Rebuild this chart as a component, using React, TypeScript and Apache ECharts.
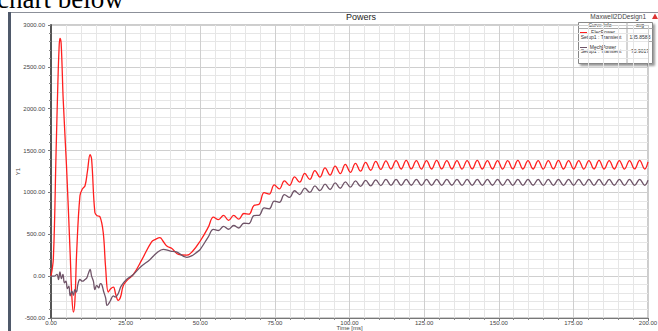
import React, { useEffect, useRef } from "react";
import * as echarts from "echarts";

// ---- Data ----
// Start-up transient, ElecPower (time ms, power)
const elecEarlyT = [0, 0.8, 1.7, 2.3, 2.7, 3.0, 3.4, 4.1, 5.2, 6.4, 7.0, 7.5, 8.0, 8.6, 9.7, 10.5, 11.4, 12.2, 13.1, 13.6, 14.7, 15.5, 16.4, 17.5, 18.3, 19.2, 20.0, 20.9, 21.7, 22.5, 23.3, 24.2, 25.5, 27.6, 30.5, 33.7, 35.0, 36.5, 37.5, 38.8, 40.5, 42.7, 45.5, 47.5, 50.0];
const elecEarlyV = [0, 220, 1480, 2300, 2720, 2840, 2780, 2100, 1310, 285, -250, -430, -300, 285, 960, 1040, 1080, 1250, 1450, 1400, 760, 720, 710, 520, 100, -190, -150, -130, -220, -290, -250, -115, -50, 20, 200, 410, 440, 460, 420, 360, 330, 260, 250, 300, 420];
// Start-up transient, MechPower
const mechEarlyT = [0, 1.0, 2.0, 2.5, 3.0, 3.5, 4.0, 4.5, 5.0, 5.5, 6.0, 6.4, 7.0, 7.5, 8.0, 8.5, 9.0, 9.7, 10.5, 11.4, 12.0, 12.5, 13.1, 13.6, 14.2, 14.7, 15.3, 16.0, 16.5, 17.0, 17.6, 18.3, 18.8, 19.8, 20.9, 21.5, 22.5, 23.5, 25.3, 27.6, 30.0, 33.2, 35.5, 37.6, 40.0, 42.0, 45.5, 47.5, 49.0, 50.0];
const mechEarlyV = [0, 0, 20, -40, 50, -30, 20, -80, -60, -150, -120, -235, -180, -230, -160, -190, -100, -40, -60, -40, -20, 30, 80, 0, -60, -160, -110, -140, -90, -100, -180, -260, -350, -300, -235, -250, -210, -120, -40, 20, 110, 200, 280, 320, 300, 290, 225, 250, 290, 320];
// Oscillating part: sample times at alternating troughs / crests
const steadyT = [52.7, 54.4, 56.1, 57.8, 59.5, 61.2, 62.9, 64.6, 66.3, 68.0, 69.7, 71.4, 73.1, 74.8, 76.5, 78.2, 79.9, 81.6, 83.3, 85.0, 86.7, 88.4, 90.1, 91.8, 93.5, 95.2, 96.9, 98.6, 100.3, 102.0, 103.7, 105.4, 107.1, 108.8, 110.5, 112.2, 113.9, 115.6, 117.3, 119.0, 120.7, 122.4, 124.1, 125.8, 127.5, 129.2, 130.9, 132.6, 134.3, 136.0, 137.7, 139.4, 141.1, 142.8, 144.5, 146.2, 147.9, 149.6, 151.3, 153.0, 154.7, 156.4, 158.1, 159.8, 161.5, 163.2, 164.9, 166.6, 168.3, 170.0, 171.7, 173.4, 175.1, 176.8, 178.5, 180.2, 181.9, 183.6, 185.3, 187.0, 188.7, 190.4, 192.1, 193.8, 195.5, 197.2, 198.9, 200.0];
const elecSteadyV = [585, 705, 675, 725, 665, 725, 680, 748, 740, 845, 858, 997, 980, 1090, 1042, 1138, 1085, 1185, 1123, 1227, 1155, 1260, 1183, 1293, 1207, 1315, 1225, 1335, 1240, 1348, 1255, 1360, 1265, 1370, 1275, 1378, 1280, 1380, 1280, 1382, 1281, 1380, 1279, 1381, 1280, 1382, 1281, 1380, 1280, 1381, 1279, 1380, 1281, 1382, 1280, 1380, 1280, 1381, 1279, 1380, 1281, 1382, 1280, 1380, 1280, 1381, 1279, 1380, 1281, 1382, 1280, 1380, 1280, 1381, 1279, 1380, 1281, 1382, 1280, 1380, 1280, 1381, 1279, 1380, 1281, 1382, 1280, 1365];
const mechSteadyV = [470, 558, 545, 595, 560, 605, 575, 632, 628, 724, 726, 815, 804, 897, 882, 973, 940, 1020, 974, 1052, 1000, 1078, 1021, 1098, 1035, 1113, 1050, 1127, 1063, 1138, 1072, 1145, 1078, 1150, 1082, 1155, 1085, 1156, 1085, 1155, 1086, 1156, 1084, 1155, 1085, 1156, 1085, 1155, 1086, 1156, 1084, 1155, 1085, 1156, 1085, 1155, 1086, 1156, 1084, 1155, 1085, 1156, 1085, 1155, 1086, 1156, 1084, 1155, 1085, 1156, 1085, 1155, 1086, 1156, 1084, 1155, 1085, 1156, 1085, 1155, 1086, 1156, 1084, 1155, 1085, 1156, 1085, 1145];

const seriesNames = ["ElecPower", "MechPower"];
const seriesAvg = ["135.8583", "73.9017"];
const xTicks = { min: 0, max: 200, interval: 25 };
const yTicks = { min: -500, max: 3000, interval: 500 };

const FONT = '"Liberation Sans", Arial, sans-serif';
const RED = "#ff1f1f";
const PURPLE = "#6f5468";

function pairs(t: number[], v: number[]) {
  return t.map((x, i) => [x, v[i]]);
}

export default function App() {
  const ref = useRef<HTMLDivElement>(null);
  useEffect(() => {
    if (!ref.current) return;
    const chart = echarts.init(ref.current, null, { renderer: "svg" });
    const elecData = pairs(elecEarlyT, elecEarlyV).concat(pairs(steadyT, elecSteadyV));
    const mechData = pairs(mechEarlyT, mechEarlyV).concat(pairs(steadyT, mechSteadyV));
    const small = (s: string, x: number, y: number, align = "center", size = 5) => ({
      type: "text",
      style: { text: s, x, y, fill: "#333", font: `${size}px ${FONT}`, textAlign: align, textVerticalAlign: "middle" },
    });
    chart.setOption({
      animation: false,
      backgroundColor: "#fff",
      grid: {
        left: 51, right: 10, top: 25, bottom: 13,
        outerBoundsMode: "none",
        containLabel: false,
        show: true, borderColor: "#9a9a9a", borderWidth: 1,
      },
      xAxis: {
        type: "value",
        min: xTicks.min,
        max: xTicks.max,
        interval: xTicks.interval,
        axisLine: { show: true, onZero: false, lineStyle: { color: "#777", width: 1 } },
        axisTick: { show: true, length: 3, lineStyle: { color: "#777" } },
        minorTick: { show: true, splitNumber: 5, length: 2, lineStyle: { color: "#888" } },
        axisLabel: { fontSize: 6, color: "#444", margin: 2, fontFamily: FONT, formatter: (v: number) => v.toFixed(2) },
        splitLine: { show: true, lineStyle: { color: "#cfcfcf", width: 1 } },
        minorSplitLine: { show: true, lineStyle: { color: "#e6e6e6", width: 1 } },
        name: "Time [ms]",
        nameLocation: "middle",
        nameGap: 7,
        nameMoveOverlap: false,
        nameTextStyle: { fontSize: 6, color: "#444", fontFamily: FONT },
      },
      yAxis: {
        type: "value",
        min: yTicks.min,
        max: yTicks.max,
        interval: yTicks.interval,
        axisLine: { show: true, onZero: false, lineStyle: { color: "#555", width: 2 } },
        axisTick: { show: true, length: 3, lineStyle: { color: "#777" } },
        minorTick: { show: true, splitNumber: 5, length: 2, lineStyle: { color: "#888" } },
        axisLabel: { fontSize: 6, color: "#444", margin: 6, fontFamily: FONT, formatter: (v: number) => v.toFixed(2) },
        splitLine: { show: true, lineStyle: { color: "#cfcfcf", width: 1 } },
        minorSplitLine: { show: true, lineStyle: { color: "#e6e6e6", width: 1 } },
        name: "Y1",
        nameLocation: "middle",
        nameGap: 30,
        nameRotate: 90,
        nameMoveOverlap: false,
        nameTextStyle: { fontSize: 6, color: "#444", fontFamily: FONT },
      },
      series: [
        {
          name: seriesNames[0],
          type: "line",
          data: elecData,
          showSymbol: false,
          smooth: 0.4,
          lineStyle: { color: RED, width: 1.3 },
          itemStyle: { color: RED },
          z: 3,
        },
        {
          name: seriesNames[1],
          type: "line",
          data: mechData,
          showSymbol: false,
          smooth: 0.4,
          lineStyle: { color: PURPLE, width: 1.3 },
          itemStyle: { color: PURPLE },
          z: 4,
        },
      ],
      graphic: [
        {
          type: "text",
          style: { text: "chart below", x: -3, y: -1.5, fill: "#000", font: `27px "Liberation Serif", serif`, textAlign: "left", textVerticalAlign: "middle" },
        },
        { type: "rect", shape: { x: 9.5, y: 12.5, width: 660, height: 330 }, style: { fill: "none", stroke: "#8c9099", lineWidth: 1 } },
        { type: "rect", shape: { x: 8, y: 12, width: 3, height: 320 }, style: { fill: "#4f596a" } },
        { type: "text", style: { text: "Powers", x: 361, y: 17, fill: "#222", font: `9px ${FONT}`, textAlign: "center", textVerticalAlign: "middle" } },
        { type: "text", style: { text: "Maxwell2DDesign1", x: 646, y: 16, fill: "#444", font: `6.5px ${FONT}`, textAlign: "right", textVerticalAlign: "middle" } },
        { type: "polygon", shape: { points: [[652, 19], [658, 19], [655, 13.5]] }, style: { fill: "#d33" } },
        {
          type: "group",
          children: [
            {
              type: "rect",
              shape: { x: 578.5, y: 22.5, width: 74, height: 41 },
              style: { fill: "#fff", stroke: "#888", lineWidth: 1, shadowBlur: 2, shadowOffsetX: 2, shadowOffsetY: 2, shadowColor: "rgba(0,0,0,0.4)" },
            },
            { type: "line", shape: { x1: 627, y1: 22.5, x2: 627, y2: 63.5 }, style: { stroke: "#aaa", lineWidth: 1 } },
            { type: "line", shape: { x1: 578.5, y1: 28.5, x2: 652.5, y2: 28.5 }, style: { stroke: "#aaa", lineWidth: 1 } },
            { type: "line", shape: { x1: 578.5, y1: 41.5, x2: 652.5, y2: 41.5 }, style: { stroke: "#aaa", lineWidth: 1 } },
            small("Curve Info", 600, 25.3),
            small("avg", 640, 25.3),
            { type: "line", shape: { x1: 580, y1: 32.5, x2: 587, y2: 32.5 }, style: { stroke: RED, lineWidth: 1 } },
            small(seriesNames[0], 603, 32),
            small("Setup1 : Transient", 601, 36.5),
            small(seriesAvg[0], 640, 36.5),
            { type: "line", shape: { x1: 580, y1: 47.5, x2: 587, y2: 47.5 }, style: { stroke: PURPLE, lineWidth: 1 } },
            small(seriesNames[1], 603, 46.5),
            small("Setup1 : Transient", 601, 51),
            small(seriesAvg[1], 640, 51),
          ],
        },
      ],
    });
    return () => chart.dispose();
  }, []);
  return (
    <div
      ref={ref}
      style={{ position: "fixed", left: 0, top: 0, width: 658, height: 331, background: "#fff" }}
    />
  );
}
